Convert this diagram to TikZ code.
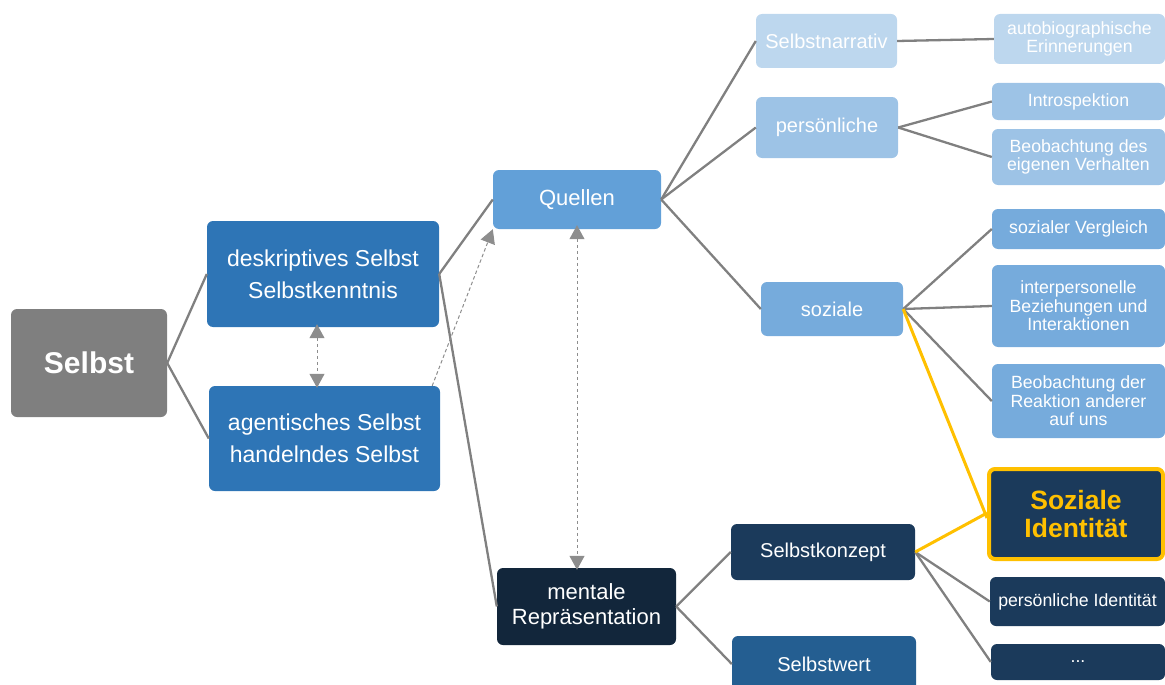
\documentclass[tikz,border=0pt]{standalone}
\usepackage{fontspec}
\setmainfont{Liberation Sans}
\usepackage{tikz}
\usetikzlibrary{arrows.meta}

\definecolor{selbstgray}{HTML}{7F7F7F}
\definecolor{midblue}{HTML}{2E75B6}
\definecolor{quellblue}{HTML}{62A0D8}
\definecolor{paleblue}{HTML}{BDD7EE}
\definecolor{lightblue}{HTML}{9DC3E6}
\definecolor{sozblue}{HTML}{76ABDC}
\definecolor{nightblue}{HTML}{12263B}
\definecolor{navy}{HTML}{1B3A5B}
\definecolor{steelblue}{HTML}{245E91}
\definecolor{gold}{HTML}{FFC000}
\definecolor{linegray}{HTML}{808080}

\begin{document}
\begin{tikzpicture}[x=1pt, y=-1pt,
  box/.style={rectangle, rounded corners=6pt, inner sep=0pt, text=white, align=center},
  big/.style={font=\fontsize{23}{32}\selectfont},
  mid/.style={font=\fontsize{20}{24}\selectfont},
  small/.style={font=\fontsize{17.7}{18.5}\selectfont},
  conn/.style={draw=linegray, line width=2.3pt},
  hilite/.style={draw=gold, line width=3pt},
  link/.style={color=linegray!90, line width=1pt, dash pattern=on 3.5pt off 2.5pt},
  tip/.tip={Triangle[length=14pt,width=15pt]}]
  \useasboundingbox (0,0) rectangle (1165,685);

  \node[box, fill=selbstgray, minimum width=156, minimum height=108, font=\bfseries\fontsize{30}{34}\selectfont] (selbst) at (89,363) {Selbst};
  \node[box, big, fill=midblue, minimum width=232, minimum height=106] (deskr) at (323,274) {deskriptives Selbst\\Selbstkenntnis};
  \node[box, big, fill=midblue, minimum width=231, minimum height=105] (agent) at (324.5,438.5) {agentisches Selbst\\handelndes Selbst};
  \node[box, fill=quellblue, minimum width=168, minimum height=59, font=\fontsize{22}{25}\selectfont] (quellen) at (577,199.5) {Quellen};
  \node[box, fill=nightblue, minimum width=179, minimum height=77, font=\fontsize{22}{25}\selectfont] (mental) at (586.5,606.5) {mentale\\Repräsentation};

  \node[box, mid, fill=paleblue, minimum width=141, minimum height=54] (narrativ) at (826.5,41) {Selbstnarrativ};
  \node[box, small, fill=paleblue, minimum width=171, minimum height=50] (autobio) at (1079.5,39) {autobiographische\\Erinnerungen};
  \node[box, mid, fill=lightblue, minimum width=142, minimum height=61] (persoenl) at (827,127.5) {persönliche};
  \node[box, small, fill=lightblue, minimum width=173, minimum height=37] (intro) at (1078.5,101.5) {Introspektion};
  \node[box, small, fill=lightblue, minimum width=173, minimum height=56] (verhalten) at (1078.5,157) {Beobachtung des\\eigenen Verhalten};
  \node[box, mid, fill=sozblue, minimum width=142, minimum height=54] (sozial) at (832,309) {soziale};
  \node[box, small, fill=sozblue, minimum width=173, minimum height=40] (vergleich) at (1078.5,229) {sozialer Vergleich};
  \node[box, small, fill=sozblue, minimum width=173, minimum height=82] (interpers) at (1078.5,306) {interpersonelle\\Beziehungen und\\Interaktionen};
  \node[box, small, fill=sozblue, minimum width=173, minimum height=74] (reaktion) at (1078.5,401) {Beobachtung der\\Reaktion anderer\\auf uns};

  \node[box, fill=navy, draw=gold, line width=4pt, minimum width=174, minimum height=90, text=gold, font=\bfseries\fontsize{26.5}{28}\selectfont] (sozid) at (1076,514) {Soziale\\Identität};
  \node[box, mid, fill=navy, minimum width=184, minimum height=56] (konzept) at (823,552) {Selbstkonzept};
  \node[box, small, fill=navy, minimum width=175, minimum height=49] (persid) at (1077.5,601.5) {persönliche Identität};
  \node[box, small, fill=navy, minimum width=174, minimum height=36] (weiter) at (1078,662) {...};
  \node[box, mid, fill=steelblue, minimum width=184, minimum height=56] (wert) at (824,664) {Selbstwert};

  \path[conn]
  (selbst.east) edge (deskr.west)
                edge (agent.west)
  (deskr.east) edge (quellen.west)
               edge (mental.west)
  (quellen.east) edge (narrativ.west)
                 edge (persoenl.west)
                 edge (sozial.west)
  (narrativ.east) edge (autobio.west)
  (persoenl.east) edge (intro.west)
                  edge (verhalten.west)
  (sozial.east) edge (vergleich.west)
                edge (interpers.west)
                edge (reaktion.west)
  (mental.east) edge (konzept.west)
                edge (wert.west)
  (konzept.east) edge (persid.west)
                 edge (weiter.west)
  ;
  \path[hilite]
  (sozial.east) edge ([yshift=-4pt]sozid.west)
  (konzept.east) edge ([yshift=1pt]sozid.west)
  ;
  \path[link]
  ([xshift=-6pt,yshift=3pt]deskr.south) edge[tip-tip] ([xshift=-7.5pt,yshift=-2pt]agent.north)
  ([xshift=-8pt]agent.north east) edge[-tip] (quellen.south west)
  ([yshift=4pt]quellen.south) edge[tip-tip] ([yshift=-2pt]quellen.south |- mental.north)
  ;
\end{tikzpicture}
\end{document}
